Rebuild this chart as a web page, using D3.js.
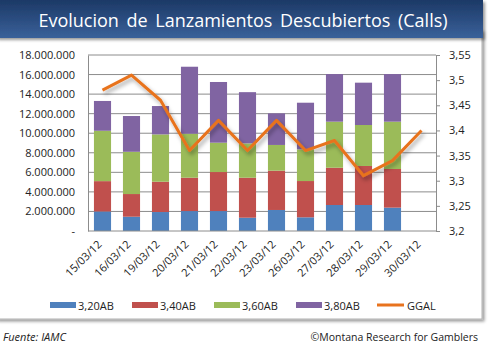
<!DOCTYPE html>
<html>
<head>
  <meta charset="UTF-8">
  <title>Lanzamientos descubiertos</title>
  <script src="https://cdn.jsdelivr.net/npm/d3@7"></script>
  <style>
    body { margin: 0; background: #fff; }
    text { font-family: "Open Sans", "Liberation Sans", sans-serif; }
  </style>
</head>
<body>
<script>
  // data (millions per strike, stacked)
  var fechas = ["15/03/12", "16/03/12", "19/03/12", "20/03/12", "21/03/12", "22/03/12",
    "23/03/12", "26/03/12", "27/03/12", "28/03/12", "29/03/12", "30/03/12"];
  var s320 = [2.00, 1.46, 1.94, 2.04, 2.04, 1.36, 2.15, 1.40, 2.66, 2.66, 2.39, 0];
  var s340 = [3.10, 2.32, 3.10, 3.41, 3.99, 4.09, 4.02, 3.71, 3.81, 3.99, 3.95, 0];
  var s360 = [5.15, 4.32, 4.84, 4.50, 3.00, 3.51, 2.63, 3.24, 4.71, 4.19, 4.84, 0];
  var s380 = [3.05, 3.66, 2.90, 6.85, 6.21, 5.24, 3.23, 4.77, 4.87, 4.33, 4.87, 0];
  var ggal = [3.48, 3.51, 3.46, 3.36, 3.42, 3.36, 3.42, 3.36, 3.38, 3.31, 3.34, 3.40];
  var seriesNames = ["3,20AB", "3,40AB", "3,60AB", "3,80AB"];
  var colors = ["#4F81BD", "#C0504D", "#9BBB59", "#8064A2"];
  var leftTicks = [0, 2, 4, 6, 8, 10, 12, 14, 16, 18];
  var rightTicks = [3.2, 3.25, 3.3, 3.35, 3.4, 3.45, 3.5, 3.55];

  var W = 489, H = 347;
  var svg = d3.select("body").append("svg").attr("width", W).attr("height", H);
  var defs = svg.append("defs");

  var g1 = defs.append("linearGradient").attr("id", "tb").attr("x1", 0).attr("y1", 0).attr("x2", 0).attr("y2", 1);
  g1.append("stop").attr("offset", "0%").attr("stop-color", "#1c3966");
  g1.append("stop").attr("offset", "100%").attr("stop-color", "#3a619a");

  var sh = defs.append("filter").attr("id", "sh").attr("x", "-5%").attr("y", "-5%").attr("width", "115%").attr("height", "130%");
  sh.append("feDropShadow").attr("dx", 2).attr("dy", 2).attr("stdDeviation", 1.5).attr("flood-color", "#000").attr("flood-opacity", 0.4);

  var lsh = defs.append("filter").attr("id", "lsh").attr("x", "-10%").attr("y", "-10%").attr("width", "130%").attr("height", "140%");
  lsh.append("feDropShadow").attr("dx", 2).attr("dy", 3).attr("stdDeviation", 2).attr("flood-color", "#000").attr("flood-opacity", 0.35);

  // panel + title bar
  svg.append("rect").attr("x", -4).attr("y", 30).attr("width", 486).attr("height", 289)
    .attr("fill", "#fff").attr("stroke", "#b0b0b0").attr("filter", "url(#sh)");
  svg.append("rect").attr("x", -4).attr("y", 0).attr("width", 487).attr("height", 38)
    .attr("fill", "url(#tb)").attr("filter", "url(#sh)");
  svg.append("text").attr("x", 243).attr("y", 27).attr("text-anchor", "middle")
    .attr("fill", "#fff").style("font-size", "18px").style("word-spacing", "3px")
    .text("Evolucion de Lanzamientos Descubiertos (Calls)");

  var pLeft = 88, pRight = 436, pTop = 55, pBottom = 231;

  var x = d3.scaleBand().domain(fechas).range([pLeft, pRight]).paddingInner(0.41).paddingOuter(0.205);
  var xb = d3.scaleBand().domain(fechas).range([pLeft, pRight]);
  var y = d3.scaleLinear().domain([0, 18]).range([pBottom, pTop]);
  var y2 = d3.scaleLinear().domain([3.2, 3.55]).range([pBottom, pTop]);

  // gridlines
  svg.append("g").selectAll("line").data(leftTicks.slice(1)).enter().append("line")
    .attr("x1", pLeft).attr("x2", pRight)
    .attr("y1", function (d) { return y(d); }).attr("y2", function (d) { return y(d); })
    .attr("stroke", "#8c8c8c").attr("stroke-width", 1);

  // stacked bars
  var table = fechas.map(function (f, i) {
    return { fecha: f, a: s320[i], b: s340[i], c: s360[i], d: s380[i] };
  });
  var stack = d3.stack().keys(["a", "b", "c", "d"])(table);
  svg.append("g").selectAll("g").data(stack).enter().append("g")
    .attr("fill", function (d, i) { return colors[i]; })
    .selectAll("rect").data(function (d) { return d; }).enter().append("rect")
    .attr("x", function (d) { return x(d.data.fecha); })
    .attr("width", x.bandwidth())
    .attr("y", function (d) { return y(d[1]); })
    .attr("height", function (d) { return y(d[0]) - y(d[1]); });

  // axes
  var fmt = function (d) { return d === 0 ? "-" : d3.format(",")(d * 1e6).replace(/,/g, "."); };
  var ax = svg.append("g").attr("transform", "translate(" + pLeft + ",0)")
    .call(d3.axisLeft(y).tickValues(leftTicks).tickSize(0).tickPadding(13).tickFormat(fmt));
  ax.select(".domain").attr("stroke", "#8c8c8c");
  ax.selectAll("text").style("font-size", "11px").attr("fill", "#222");

  var ar = svg.append("g").attr("transform", "translate(" + pRight + ",0)")
    .call(d3.axisRight(y2).tickValues(rightTicks).tickSize(4).tickPadding(9)
      .tickFormat(function (d) { return String(+d.toFixed(2)).replace(".", ","); }));
  ar.select(".domain").attr("stroke", "#8c8c8c");
  ar.selectAll("line").attr("stroke", "#8c8c8c");
  ar.selectAll("text").style("font-size", "11px").attr("fill", "#222");

  svg.append("line").attr("x1", pLeft).attr("x2", pRight).attr("y1", pBottom).attr("y2", pBottom)
    .attr("stroke", "#8c8c8c");

  var axb = svg.append("g").attr("transform", "translate(0," + pBottom + ")")
    .call(d3.axisBottom(xb).tickSize(0).tickPadding(0));
  axb.select(".domain").remove();
  axb.selectAll("text")
    .style("font-size", "11px").attr("fill", "#222")
    .attr("text-anchor", "end").attr("dy", 0)
    .attr("transform", "translate(0,14) rotate(-45)");

  // GGAL line
  var line = d3.line()
    .x(function (d, i) { return xb(fechas[i]) + xb.bandwidth() / 2; })
    .y(function (d) { return y2(d); });
  svg.append("path").datum(ggal).attr("d", line)
    .attr("fill", "none").attr("stroke", "#E8731E").attr("stroke-width", 3)
    .attr("stroke-linejoin", "round").attr("filter", "url(#lsh)");

  // legend
  var legX = [50, 132, 214, 296];
  var leg = svg.append("g");
  seriesNames.forEach(function (n, i) {
    leg.append("rect").attr("x", legX[i]).attr("y", 302).attr("width", 26).attr("height", 6).attr("fill", colors[i]);
    leg.append("text").attr("x", legX[i] + 28).attr("y", 309.5).style("font-size", "11px").attr("fill", "#222").text(n);
  });
  leg.append("line").attr("x1", 377).attr("x2", 404).attr("y1", 305).attr("y2", 305)
    .attr("stroke", "#E8731E").attr("stroke-width", 3);
  leg.append("text").attr("x", 407).attr("y", 309.5).style("font-size", "11px").attr("fill", "#222").text("GGAL");

  // footer
  svg.append("text").attr("x", 3).attr("y", 341).style("font-size", "11px").style("font-style", "italic")
    .attr("fill", "#222").text("Fuente:  IAMC");
  svg.append("text").attr("x", 478).attr("y", 341).attr("text-anchor", "end").style("font-size", "10.5px")
    .attr("fill", "#222").text("\u00a9Montana Research for Gamblers");
</script>
</body>
</html>
